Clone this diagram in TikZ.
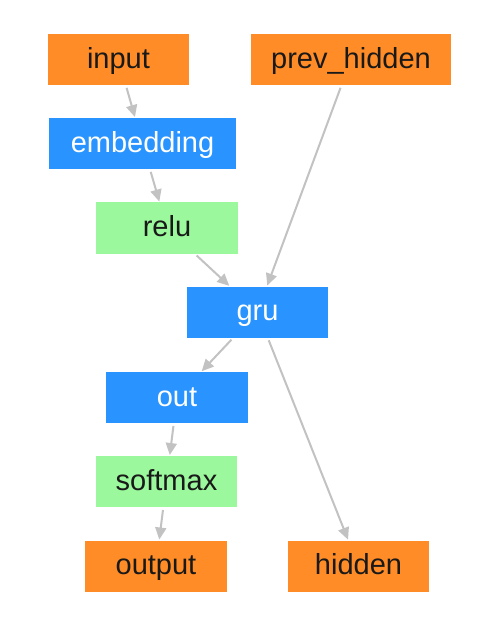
\documentclass[tikz,border=0pt]{standalone}
\usepackage{fontspec}
\setmainfont{Liberation Sans}
\usetikzlibrary{arrows.meta}
\definecolor{orng}{HTML}{FF8C27}
\definecolor{blu}{HTML}{2994FF}
\definecolor{grn}{HTML}{9CF89C}
\definecolor{edg}{HTML}{C2C2C2}
\begin{document}
\begin{tikzpicture}[x=1pt,y=-1pt,
  box/.style={inner sep=0pt, outer sep=0pt, minimum height=51pt, text height=20pt, text depth=2.4pt, font=\fontsize{29}{32}\selectfont},
  obox/.style={box, fill=orng, text=black!90},
  bbox/.style={box, fill=blu, text=white},
  gbox/.style={box, fill=grn, text=black!90},
  conn/.style={draw=edg, line width=2pt, -{Triangle[length=12pt,width=11pt]}, shorten <=3pt, shorten >=1pt}]
\useasboundingbox (0,0) rectangle (486,620);
\node[obox, minimum width=141pt] (input) at (118.5,59.5) {input};
\node[obox, minimum width=200pt] (prev) at (351,59.5) {prev\_hidden};
\node[bbox, minimum width=187pt] (emb) at (142.5,143.5) {embedding};
\node[gbox, minimum width=142pt] (relu) at (167,228) {relu};
\node[bbox, minimum width=141pt] (gru) at (257.5,312) {gru};
\node[bbox, minimum width=142pt] (out) at (177,397.5) {out};
\node[gbox, minimum width=141pt] (soft) at (166.5,481.5) {softmax};
\node[obox, minimum width=142pt] (output) at (156,566) {output};
\node[obox, minimum width=141pt] (hidden) at (358.5,566) {hidden};
\draw[conn] (input) -- (emb);
\draw[conn] (emb) -- (relu);
\draw[conn] (relu) -- (gru);
\draw[conn] (prev) -- (gru);
\draw[conn] (gru) -- (out);
\draw[conn] (gru) -- (hidden);
\draw[conn] (out) -- (soft);
\draw[conn] (soft) -- (output);
\end{tikzpicture}
\end{document}
